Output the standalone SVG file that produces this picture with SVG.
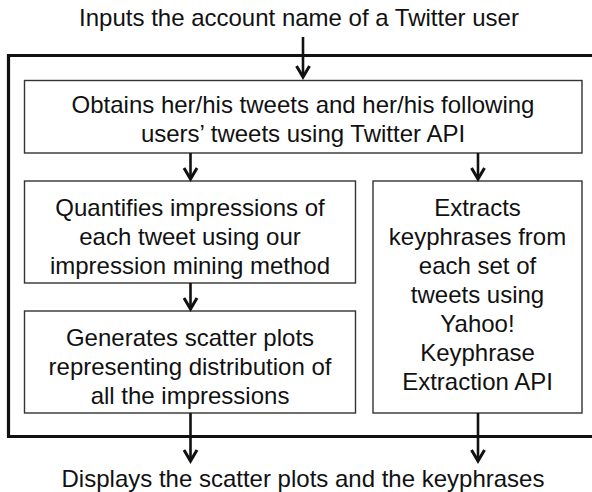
<svg xmlns="http://www.w3.org/2000/svg" width="592" height="492" viewBox="0 0 592 492">
<defs>
<style>
text{font-family:"Liberation Sans",Arial,sans-serif;font-size:24px;fill:#111;text-anchor:middle}
.box{fill:#fff;stroke:#333;stroke-width:1.4}
.frame{fill:none;stroke:#111;stroke-width:3.2}
.conn{fill:none;stroke:#111;stroke-width:2.6}
.head{fill:none;stroke:#111;stroke-width:3}
</style>
</defs>
<rect width="592" height="492" fill="#fff"/>
<g id="frame"><path class="frame" d="M600 55.5 H8.5 V436.5 H600"/></g>
<g id="input"><text x="299" y="26">Inputs the account name of a Twitter user</text></g>
<g id="obtain">
<rect class="box" x="24.5" y="80.5" width="557.5" height="72.5"/>
<text x="303" y="113">Obtains her/his tweets and her/his following</text>
<text x="303" y="142">users’ tweets using Twitter API</text>
</g>
<g id="quantify">
<rect class="box" x="24.5" y="181" width="331" height="102"/>
<text x="190" y="216">Quantifies impressions of</text>
<text x="190" y="245">each tweet using our</text>
<text x="190" y="274">impression mining method</text>
</g>
<g id="generate">
<rect class="box" x="24.5" y="311" width="331" height="102"/>
<text x="190" y="346">Generates scatter plots</text>
<text x="190" y="375">representing distribution of</text>
<text x="190" y="404">all the impressions</text>
</g>
<g id="extract">
<rect class="box" x="373" y="181" width="209" height="232"/>
<text x="477.5" y="216">Extracts</text>
<text x="477.5" y="245">keyphrases from</text>
<text x="477.5" y="274">each set of</text>
<text x="477.5" y="303">tweets using</text>
<text x="477.5" y="332">Yahoo!</text>
<text x="477.5" y="361">Keyphrase</text>
<text x="477.5" y="390">Extraction API</text>
</g>
<g id="display"><text x="303" y="487">Displays the scatter plots and the keyphrases</text></g>
<g id="connectors">
<path class="conn" d="M303 37 V77"/><path class="head" d="M296.5 66 L303 77 L309.5 66"/>
<path class="conn" d="M190.5 153 V179"/><path class="head" d="M184 168 L190.5 179 L197 168"/>
<path class="conn" d="M478 153 V179"/><path class="head" d="M471.5 168 L478 179 L484.5 168"/>
<path class="conn" d="M190.5 283 V309"/><path class="head" d="M184 298 L190.5 309 L197 298"/>
<path class="conn" d="M190.5 413 V461"/><path class="head" d="M184 450 L190.5 461 L197 450"/>
<path class="conn" d="M478 413 V461"/><path class="head" d="M471.5 450 L478 461 L484.5 450"/>
</g>
</svg>
